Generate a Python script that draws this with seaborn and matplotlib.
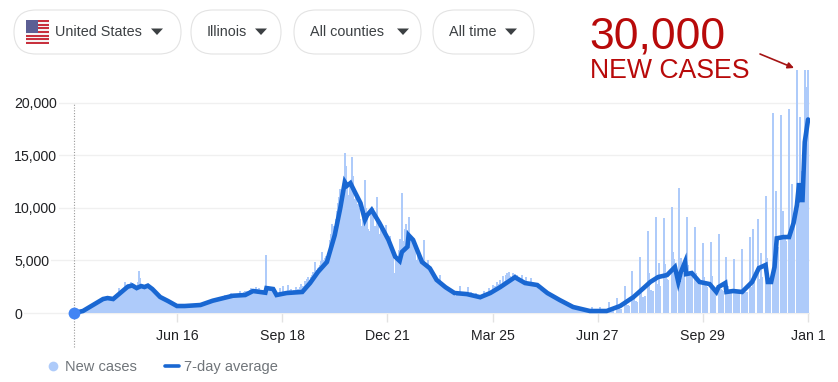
import matplotlib
matplotlib.use("Agg")
import numpy as np
import pandas as pd
import seaborn as sns
import matplotlib.pyplot as plt
from matplotlib.lines import Line2D
from matplotlib.patches import FancyBboxPatch, Rectangle, Polygon

sns.set_style("white")
plt.rcParams["font.family"] = ["Liberation Sans", "DejaVu Sans"]

## Part 1: Data
# daily new cases, one row per week, day 0 is 2020-03-16
new_cases = [
    0, 50, 60, 100, 150, 200, 180,
    250, 300, 350, 280, 400, 500, 450,
    600, 750, 650, 800, 900, 700, 950,
    1000, 1100, 900, 1300, 1350, 1200, 1400,
    1500, 1350, 1400, 1300, 1500, 1450, 1300,
    1400, 1250, 1550, 1800, 1700, 2400, 2000,
    1700, 2050, 2200, 2400, 2900, 2700, 2800,
    2600, 2750, 2900, 2650, 2500, 2400, 2300,
    2000, 2900, 4000, 3300, 2100, 2700, 2450,
    2300, 2700, 2350, 2200, 2600, 2500, 2450,
    2300, 2100, 2000, 1800, 1700, 1600, 1750,
    1500, 1400, 1500, 1300, 1200, 1150, 1350,
    1100, 1000, 1150, 950, 800, 850, 750,
    650, 700, 600, 650, 620, 680, 700,
    650, 700, 720, 750, 680, 700, 760,
    780, 700, 800, 820, 780, 800, 790,
    750, 800, 900, 950, 1000, 1050, 1100,
    1000, 1150, 1100, 1200, 1250, 1150, 1300,
    1350, 1300, 1400, 1450, 1500, 1550, 1400,
    1500, 1600, 1700, 1550, 1650, 1750, 1800,
    1900, 1700, 1800, 1650, 1750, 1850, 1700,
    1700, 2050, 1900, 1750, 1800, 2000, 2100,
    1950, 2100, 2000, 2200, 2350, 2100, 2200,
    2200, 2100, 2450, 2300, 2400, 2000, 2100,
    2000, 2150, 2200, 1900, 5500, 2600, 2400,
    2400, 2500, 2300, 1900, 1600, 1700, 1500,
    1800, 1700, 2400, 1900, 2000, 2600, 2000,
    1900, 2100, 2700, 2150, 2000, 2300, 2100,
    2000, 2200, 2500, 1950, 2300, 2200, 2450,
    2800, 2400, 2600, 3000, 2900, 3200, 3400,
    2900, 3100, 3400, 3600, 3900, 4850, 3700,
    4100, 4300, 4400, 4600, 4900, 5800, 5000,
    5200, 5400, 4900, 5700, 6000, 6900, 7500,
    8500, 8300, 7500, 8900, 9700, 10500, 11000,
    11800, 9900, 10500, 11500, 15200, 14000, 12500,
    11200, 10800, 12000, 14800, 13000, 10500, 10800,
    11000, 9800, 10400, 10000, 8900, 8300, 9200,
    9500, 12650, 10000, 9000, 8000, 7800, 9900,
    8600, 10000, 8200, 8300, 8000, 11000, 8800,
    7500, 8500, 8100, 7000, 7600, 7700, 8400,
    6800, 6500, 7300, 6300, 6100, 5700, 3800,
    3800, 5000, 5300, 6000, 7000, 6800, 11400,
    6500, 6800, 8000, 8500, 7900, 9100, 7200,
    7000, 6500, 6800, 5500, 6300, 5000, 5800,
    5200, 5400, 4400, 5000, 4800, 6900, 4500,
    4400, 5000, 4200, 4300, 3900, 3700, 3600,
    3300, 3400, 2900, 3200, 2700, 3600, 2800,
    2500, 2600, 2300, 2400, 2200, 2100, 1800,
    2000, 2100, 1700, 1900, 1800, 1650, 1900,
    1700, 1800, 2600, 1900, 2000, 1600, 1800,
    1700, 1900, 2500, 1500, 1600, 1950, 1400,
    1500, 1700, 1900, 1300, 1450, 1600, 1500,
    1400, 1550, 2100, 1900, 1700, 1800, 2000,
    2400, 2000, 2100, 2700, 2500, 2600, 2300,
    2900, 2800, 2400, 3100, 2700, 3500, 2900,
    3000, 3600, 3800, 3200, 3900, 3500, 3400,
    3800, 3600, 3700, 3300, 3600, 3200, 3000,
    3100, 3600, 2900, 3000, 2800, 3400, 2800,
    2900, 2700, 3300, 2600, 2600, 2800, 2500,
    2700, 2600, 2300, 2200, 2100, 2200, 2000,
    1950, 2000, 1800, 1700, 1650, 1600, 1500,
    1450, 1400, 1350, 1300, 1250, 1300, 1200,
    1100, 1050, 1000, 950, 900, 850, 800,
    750, 700, 720, 650, 620, 600, 550,
    500, 480, 450, 430, 400, 380, 350,
    330, 300, 280, 260, 240, 220, 200,
    200, 570, 180, 170, 180, 160, 170,
    170, 570, 190, 200, 210, 200, 220,
    180, 230,
    # from here the state reports weekdays only
    1000, 500, 400, 350, 300, 0, 0,
    1400, 700, 450, 400, 380, 0, 0,
    2560, 1300, 800, 750, 700, 0, 0,
    4000, 1500, 1000, 1100, 1000, 0, 0,
    5300, 1900, 1500, 1500, 1600, 0, 0,
    7800, 3800, 2100, 2200, 2100, 0, 0,
    9100, 2800, 2700, 4750, 2600, 0, 0,
    9000, 4650, 3400, 3200, 3100, 0, 0,
    10100, 5800, 5100, 3900, 3800, 0, 0,
    11900, 5200, 4000, 3800, 3700, 0, 0,
    9100, 4560, 3800, 3700, 3500, 0, 0,
    8200, 3800, 3000, 2900, 2800, 0, 0,
    6650, 3400, 2700, 2600, 2500, 0, 0,
    6750, 3500, 2500, 2400, 2300, 0, 0,
    7500, 1500, 2300, 2200, 2100, 0, 0,
    5300, 2600, 2100, 2000, 1950, 0, 0,
    5100, 2300, 2000, 1900, 1850, 0, 0,
    6100, 2400, 2100, 2000, 2000, 0, 0,
    7200, 2500, 2500, 8000, 2900, 0, 0,
    8900, 3000, 3200, 5700, 3400, 0, 0,
    11100, 5200, 3500, 3200, 3000, 0, 0,
    19000, 5000, 11600, 6500, 6300, 0, 0,
    18800, 7000, 9700, 7000, 6800, 0, 0,
    19400, 7500, 8000, 12250, 8500, 0, 0,
    30000, 11000, 11500, 18600, 13000, 13500, 14000,
    30000, 21500, 18000, 30000,
]
days = list(range(len(new_cases)))

avg_days = [0, 8, 17, 26, 30, 35, 41, 48, 52, 56, 60, 63, 66, 70, 77, 84, 92, 99, 113, 124, 142, 153,
            160, 171, 172, 178, 181, 190, 204, 211, 218, 226, 233, 238, 242, 244, 247, 251,
            256, 260, 262, 266, 273, 281, 287, 291, 293, 298, 299, 303, 311, 318, 324, 332,
            340, 351, 363, 372, 381, 394, 403, 414, 423, 434, 446, 461, 476, 488, 500,
            509, 515, 522, 530, 537, 540, 542, 546, 547, 552, 559, 568, 574, 576, 582,
            583, 589, 597, 606, 612, 618, 620, 623, 626, 628, 634, 639, 643, 646, 648,
            649, 651, 653, 656]
avg_cases = [0, 190, 760, 1330, 1420, 1330, 1870, 2500, 2620, 2370, 2560, 2470, 2600, 2280, 1520, 1140, 665, 665,
             760, 1170, 1640, 1710, 2090, 1930, 2370, 2280, 1710, 1900, 2000, 2850, 3900,
             4850, 7400, 10000, 12450, 12100, 12350, 11500, 10450, 8850, 9300, 9800, 8550, 6950, 5350,
             4950, 5800, 6300, 7400, 6950, 4850, 4250, 3150, 2450, 1900, 1800, 1500, 1900,
             2470, 3400, 2850, 2660, 1900, 1235, 570, 190, 190, 665, 1520, 2370, 2950, 3420,
             3610, 4370, 2950, 3800, 4850, 3700, 3800, 2950, 2750, 2000, 2470, 2850, 2000,
             2090, 2000, 2950, 4270, 4560, 2950, 2950, 4370, 7100, 7220, 7220, 8550, 10260,
             12350, 10740, 10740, 16250, 18400]

tick_days = [92, 186, 280, 374, 468, 562, 656]
tick_labels = ["Jun 16", "Sep 18", "Dec 21", "Mar 25", "Jun 27", "Sep 29", "Jan 1"]
y_ticks = [0, 5000, 10000, 15000, 20000]
y_labels = ["0", "5,000", "10,000", "15,000", "20,000"]

pill_names = ["United States", "Illinois", "All counties", "All time"]

df = pd.DataFrame({"day": days, "cases": new_cases})

## Part 2: Chart
W, H = 838, 382
fig = plt.figure(figsize=(W / 100, H / 100), dpi=100)
ax = fig.add_axes([14 / W, 1 - 322 / H, (810 - 14) / W, (322 - 70) / H])

sns.barplot(data=df, x="day", y="cases", native_scale=True, color="#aecbfa",
            saturation=1, width=1.8, linewidth=0, ax=ax, zorder=2)
sns.lineplot(x=avg_days, y=avg_cases, color="#1967d2", linewidth=3.3, estimator=None,
             solid_joinstyle="miter", ax=ax, zorder=3)
ax.plot([0], [0], "o", color="#4285f4", markersize=8.5, markeredgewidth=0, zorder=4, clip_on=False)

ax.set_xlim(-53.6, 657.7)
ax.set_ylim(-855, 23100)
ax.set_xlabel("")
ax.set_ylabel("")
sns.despine(ax=ax, left=True, bottom=True, top=True, right=True)

ax.set_yticks(y_ticks)
ax.set_yticklabels(y_labels)
ax.yaxis.grid(True, color="#f0f0f0", linewidth=1)
ax.xaxis.grid(False)
ax.set_axisbelow(True)
ax.tick_params(axis="y", length=0, pad=0, labelsize=10.2, labelcolor="#202124")
for lab in ax.get_yticklabels():
    lab.set_ha("left")
    lab.set_bbox(dict(fc="white", ec="none", pad=1.5))

ax.set_xticks(tick_days)
ax.set_xticklabels(tick_labels)
ax.tick_params(axis="x", direction="in", length=6.5, width=1, color="#e2e2e2", pad=5,
               labelsize=10.2, labelcolor="#202124", bottom=True)

ax.vlines(0, -3250, 19900, color="#9a9a9a", linewidth=0.8, linestyles=(0, (1, 1.5)),
          clip_on=False, zorder=1)

handles = [
    Line2D([], [], linestyle="none", marker="o", markersize=7, markeredgewidth=0, color="#aecbfa"),
    Line2D([], [], color="#1967d2", linewidth=2.6),
]
fig.legend(handles, ["New cases", "7-day average"], loc="center left",
           bbox_to_anchor=(46 / W, 1 - 367 / H), ncol=2, frameon=False, fontsize=10.5,
           labelcolor="#70757a", handlelength=1.0, handletextpad=0.3, columnspacing=1.9,
           borderpad=0, borderaxespad=0)

## Part 3: Filter pills and the note, in pixel coordinates
top = fig.add_axes([0, 0, 1, 1], zorder=5)
top.set_xlim(0, W)
top.set_ylim(H, 0)
top.axis("off")
top.patch.set_alpha(0)

pill_left = [14, 191, 294, 433]
pill_right = [181, 281, 421, 534]
text_left = [55, 207, 310, 449]
caret_mid = [157, 261, 403, 511]
for name, l, r, t, c in zip(pill_names, pill_left, pill_right, text_left, caret_mid):
    top.add_patch(FancyBboxPatch((l, 10), r - l, 44, boxstyle="round,pad=0,rounding_size=22",
                                 fc="white", ec="#e3e3e3", lw=0.8, mutation_aspect=1))
    top.text(t, 32, name, fontsize=10.4, color="#3c4043", va="center", ha="left")
    top.add_patch(Polygon([(c - 6, 28.5), (c + 6, 28.5), (c, 35)], closed=True, fc="#3c4043", ec="none"))

# flag
for i in range(7):
    top.add_patch(Rectangle((26, 20 + i * 24 / 6.5), 23, 24 / 13, fc="#c8313e", ec="none"))
    if i < 6:
        top.add_patch(Rectangle((26, 20 + i * 24 / 6.5 + 24 / 13), 23, 24 / 13, fc="#f4f4f4", ec="none"))
top.add_patch(Rectangle((26, 20), 11.5, 13, fc="#5c5f94", ec="none"))

red = "#b80a0a"
top.text(589, 49, "30,000", fontsize=32, color=red, va="baseline", ha="left")
top.text(590, 78, "NEW CASES", fontsize=19.2, color=red, va="baseline", ha="left")
top.annotate("", xy=(794, 68), xytext=(760, 54),
             arrowprops=dict(arrowstyle="-|>", color="#a51414", lw=1.2, mutation_scale=9, shrinkA=0, shrinkB=0))

fig.savefig("out.png", dpi=100)
